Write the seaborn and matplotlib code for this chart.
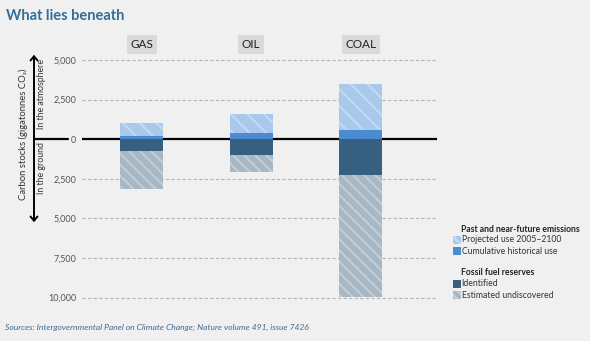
import matplotlib
matplotlib.use("Agg")
import matplotlib.pyplot as plt
import matplotlib.transforms as mtransforms
from matplotlib.patches import Rectangle, FancyArrowPatch
from matplotlib.lines import Line2D
from matplotlib.ticker import FuncFormatter
from matplotlib.colors import to_rgb
import numpy as np
import pandas as pd
import seaborn as sns

# Carbon stocks, gigatonnes CO2
fuels = ["GAS", "OIL", "COAL"]
cumulative_use = [200, 420, 600]        # cumulative historical use (atmosphere)
projected_use = [800, 1200, 2900]       # projected use 2005-2100 (atmosphere)
identified = [750, 1000, 2250]          # identified reserves (ground)
undiscovered = [2400, 1100, 7700]       # estimated undiscovered (ground)
y_ticks = [5000, 2500, 0, -2500, -5000, -7500, -10000]

BG = "#f0f0f0"
C_PROJ = "#a9c9ec"
C_CUM = "#4a8bd2"
C_IDENT = "#375f7f"
C_UNDISC = "#a8b7c4"
TITLE_C = "#336e99"


def lighten(c, k):
    r = np.array(to_rgb(c))
    return tuple(r + (1 - r) * k)


sns.set_theme(style="white")
plt.rcParams["font.family"] = ["Lato", "DejaVu Sans"]
plt.rcParams["hatch.linewidth"] = 1.5

W, H = 590, 341
fig = plt.figure(figsize=(W / 100, H / 100), dpi=100, facecolor=BG)


def fx(px):
    return px / W


def fy(py):
    return 1 - py / H


ax = fig.add_axes([fx(82), fy(302.4), fx(437) - fx(82), fy(55.2) - fy(302.4)])
ax.set_facecolor(BG)

df = pd.DataFrame({
    "fuel": fuels,
    "cumulative": cumulative_use,
    "projected": projected_use,
    "identified": identified,
    "undiscovered": undiscovered,
})
df["above"] = df["cumulative"] + df["projected"]
df["below"] = -(df["identified"] + df["undiscovered"])
df["ident_neg"] = -df["identified"]

BAR_W = 0.393


def layer(col, color, hatch=None, k=0.3):
    n = len(ax.patches)
    sns.barplot(data=df, x="fuel", y=col, order=fuels, color=color,
                saturation=1, width=BAR_W, errorbar=None, ax=ax,
                linewidth=0, zorder=3)
    if hatch:
        stripe = lighten(color, k)
        for p in ax.patches[n:]:
            p.set_hatch(hatch)
            p.set_edgecolor(stripe)
            p.set_linewidth(0)


layer("above", C_PROJ, "\\\\", k=0.3)
layer("cumulative", C_CUM)
layer("below", C_UNDISC, "\\\\\\", k=0.3)
layer("ident_neg", C_IDENT)

ax.set_xlim(-0.544, 2.697)
ax.set_ylim(-10300, 5300)
ax.set_yticks(y_ticks)
ax.yaxis.set_major_formatter(FuncFormatter(lambda v, _: f"{abs(int(v)):,}"))
ax.tick_params(axis="y", length=0, pad=4, labelsize=6.5, labelcolor="#555555")
ax.set_xticks([])
ax.set_xlabel("")
ax.set_ylabel("")
for s in ax.spines.values():
    s.set_visible(False)

for t in y_ticks:
    if t != 0:
        ax.axhline(t, color="#b5b5b5", lw=0.8, ls=(0, (3, 2)), zorder=1)
ax.axhline(0, color="black", lw=1.6, zorder=2)

# zero line continues left to the vertical arrow
fig.add_artist(Line2D([fx(34), fx(68)], [fy(139), fy(139)], color="black", lw=1.6))
fig.add_artist(FancyArrowPatch((fx(34), fy(225)), (fx(34), fy(52)),
                               transform=fig.transFigure,
                               arrowstyle="<->,head_length=3,head_width=2.5",
                               mutation_scale=1, lw=1.4, color="black"))

fig.text(fx(23.5), fy(134), "Carbon stocks (gigatonnes CO\u2082)", rotation=90,
         ha="center", va="center", fontsize=6.8, color="#333333")
fig.text(fx(41.5), fy(94), "In the atmosphere", rotation=90,
         ha="center", va="center", fontsize=6.3, color="#333333")
fig.text(fx(41.5), fy(168), "In the ground", rotation=90,
         ha="center", va="center", fontsize=6.3, color="#333333")

# fuel headers
trans = mtransforms.blended_transform_factory(ax.transData, fig.transFigure)
for i, f in enumerate(fuels):
    ax.text(i, fy(44.5), f, transform=trans, ha="center", va="center",
            fontsize=8.5, color="#222222",
            bbox=dict(boxstyle="square,pad=0.3", fc="#dadada", ec="none"))

fig.text(fx(6.5), fy(16), "What lies beneath", fontsize=10.5, fontweight="bold",
         color=TITLE_C, ha="left", va="center")
fig.text(fx(5), fy(327), "Sources: Intergovernmental Panel on Climate Change; "
         "Nature volume 491, issue 7426", fontsize=6.1, style="italic",
         color="#3e6a92", ha="left", va="center")

# legend
def legend_patch(py, color, hatch=None):
    r = Rectangle((fx(452.5), fy(py + 4)), fx(8), fy(0) - fy(8),
                  transform=fig.transFigure, fc=color, lw=0)
    if hatch:
        r.set_hatch(hatch)
        r.set_edgecolor(lighten(color, 0.35))
        r.set_linewidth(0)
    fig.add_artist(r)


LFS = 6.2
fig.text(fx(461), fy(230), "Past and near-future emissions", fontsize=LFS,
         fontweight="bold", color="#222222", ha="left", va="center")
legend_patch(240, C_PROJ, "\\\\\\\\")
fig.text(fx(461.5), fy(240), "Projected use 2005\u20132100", fontsize=LFS,
         color="#333333", ha="left", va="center")
legend_patch(251, C_CUM)
fig.text(fx(461.5), fy(251), "Cumulative historical use", fontsize=LFS,
         color="#333333", ha="left", va="center")

fig.text(fx(461), fy(272.5), "Fossil fuel reserves", fontsize=LFS,
         fontweight="bold", color="#222222", ha="left", va="center")
legend_patch(283.5, C_IDENT)
fig.text(fx(461.5), fy(283.5), "Identified", fontsize=LFS,
         color="#333333", ha="left", va="center")
legend_patch(295, C_UNDISC, "\\\\\\\\")
fig.text(fx(461.5), fy(295), "Estimated undiscovered", fontsize=LFS,
         color="#333333", ha="left", va="center")

fig.savefig("out.png", dpi=100, facecolor=BG)
